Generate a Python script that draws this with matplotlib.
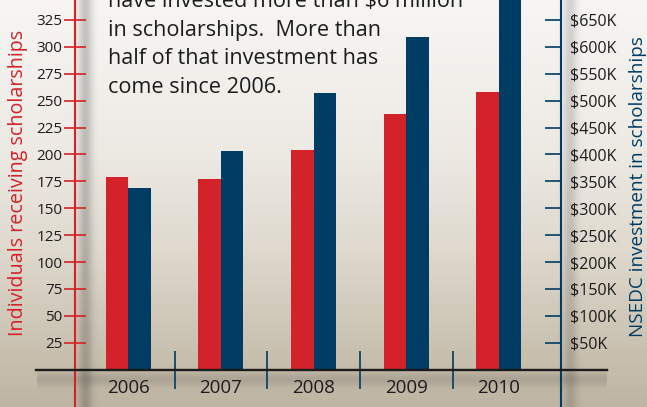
import numpy as np
import matplotlib.pyplot as plt

# Data
years = ['2006', '2007', '2008', '2009', '2010']
individuals = [179, 177, 204, 238, 258]
investment_k = [338, 406, 514, 618, 740]
left_ticks = list(range(25, 326, 25))
right_ticks = list(range(50, 651, 50))
right_labels = ['$%dK' % v for v in right_ticks]
blurb = ['have invested more than $6 million',
         'in scholarships.  More than',
         'half of that investment has',
         'come since 2006.']

RED = '#d3222a'
BLUE = '#003c63'
INK = '#1c1c1c'
W, H = 647, 407

plt.rcParams['font.family'] = ['Open Sans', 'DejaVu Sans']

fig = plt.figure(figsize=(W / 100, H / 100), dpi=100)

# axes geometry in pixels
ax_left, ax_right = 75, 560.7
zero_px = 369.7          # baseline, from top
px_per_unit = 1.076      # left scale

# background: vertical gradient plus soft shadows behind the axis lines
stops_y = [0, 150, 250, 330, 407]
stops_c = np.array([(247, 246, 243), (237, 234, 228), (223, 217, 206),
                    (205, 197, 181), (190, 180, 162)]) / 255
yy = np.arange(H)
xx = np.arange(W)
grad = np.stack([np.interp(yy, stops_y, stops_c[:, k]) for k in range(3)], axis=1)
img = np.repeat(grad[:, None, :], W, axis=1)
shade = np.ones((H, W))
shade *= 1 - 0.2 * np.exp(-((xx - (ax_left + 10)) / 7.0) ** 2)[None, :]
shade *= 1 - 0.14 * np.exp(-((xx - (ax_right + 9)) / 7.0) ** 2)[None, :]
band = np.exp(-((yy - (zero_px + 9)) / 7.0) ** 2)[:, None] * ((xx > 36) & (xx < 607))[None, :]
shade *= 1 - 0.12 * band
img = img * shade[:, :, None]
bg = fig.add_axes([0, 0, 1, 1], zorder=-1)
bg.imshow(img, aspect='auto', interpolation='bilinear')
bg.axis('off')

ax = fig.add_axes([ax_left / W, 0, (ax_right - ax_left) / W, 1])
ax.set_facecolor('none')
ymin = -(H - zero_px) / px_per_unit
ymax = zero_px / px_per_unit
ax.set_ylim(ymin, ymax)
ax.set_xlim(-0.574, 4.666)

ax2 = ax.twinx()
ax2.set_ylim(2 * ymin, 2 * ymax)

x = np.arange(len(years))
w = 0.243
ax.bar(x - w / 2, individuals, w, color=RED, zorder=2)
ax2.bar(x + w / 2, investment_k, w, color=BLUE, zorder=2)

for s in ['top', 'right', 'bottom']:
    ax.spines[s].set_visible(False)
for s in ['top', 'left', 'bottom']:
    ax2.spines[s].set_visible(False)
ax.spines['left'].set_color(RED)
ax.spines['left'].set_linewidth(1.5)
ax2.spines['right'].set_color(BLUE)
ax2.spines['right'].set_linewidth(1.5)

ax.set_yticks(left_ticks)
ax.tick_params(axis='y', direction='inout', length=16, width=1.2, color=RED,
               labelsize=11, labelcolor=INK, pad=1)
ax2.set_yticks(right_ticks, labels=right_labels)
ax2.tick_params(axis='y', direction='in', length=11.5, width=1.2, color=BLUE,
                labelsize=11.5, labelcolor=INK, pad=6.5)

# years under the baseline, category separators across it
ax.spines['bottom'].set_position(('data', 0))
ax.set_xticks(x, labels=years)
ax.set_xticks(x[:-1] + 0.5, minor=True)
ax.tick_params(axis='x', which='major', length=0, pad=7, labelsize=13.5, labelcolor=INK)
ax.tick_params(axis='x', which='minor', direction='inout', length=28, width=1.2, color=BLUE)

ax2.axhline(0, xmin=(36 - ax_left) / (ax_right - ax_left),
            xmax=(607 - ax_left) / (ax_right - ax_left),
            color=INK, lw=1.7, clip_on=False, zorder=5)

fig.text(18 / W, 1 - 183 / H, 'Individuals receiving scholarships', color=RED,
         rotation=90, ha='center', va='center', fontsize=14.2)
fig.text(638 / W, 1 - 187 / H, 'NSEDC investment in scholarships', color=BLUE,
         rotation=90, ha='center', va='center', fontsize=13.6)

for i, line in enumerate(blurb):
    fig.text(108 / W, 1 - (7 + 28.7 * i) / H, line, color=INK, fontsize=15.6,
             ha='left', va='baseline')

fig.savefig('out.png', dpi=100)
